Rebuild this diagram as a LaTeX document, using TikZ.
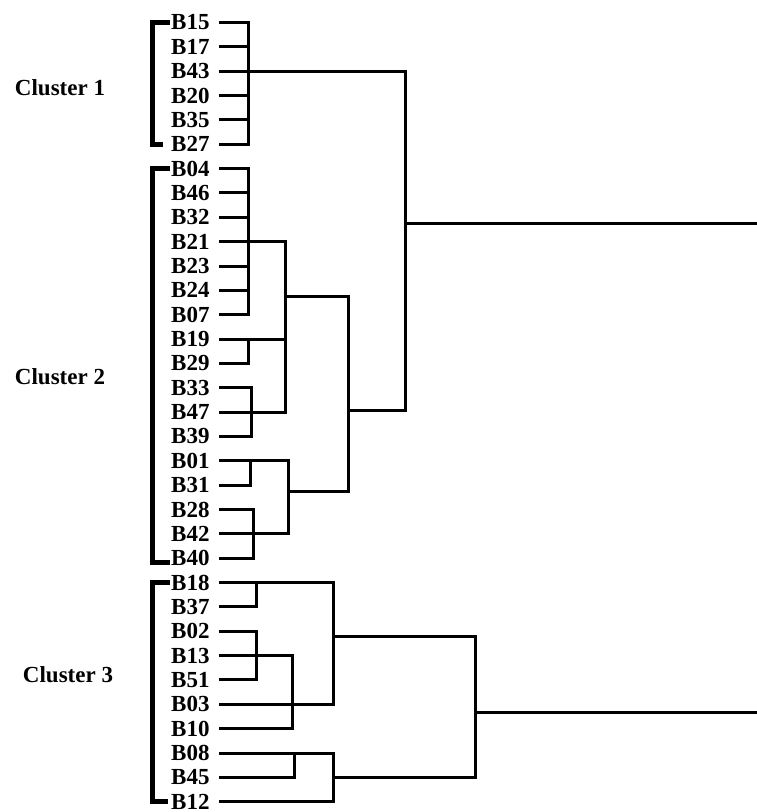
\documentclass[tikz,border=0pt]{standalone}
\usepackage{fontspec}
\setmainfont{Liberation Serif}
\usepackage{tikz}

\begin{document}
\begin{tikzpicture}[x=1pt,y=-1pt,
	lbl/.style={anchor=west,inner sep=0pt,font=\fontsize{23}{24}\selectfont\bfseries},
	clab/.style={inner sep=0pt,font=\fontsize{23}{24}\selectfont\bfseries},
	link/.style={line width=3pt,line cap=rect,line join=miter},
	brace/.style={line width=5pt,line join=miter}]
	\useasboundingbox (0,0) rectangle (757,812);
	\foreach \n [count=\i from 0] in {B15,B17,B43,B20,B35,B27,B04,B46,B32,B21,B23,B24,B07,B19,B29,B33,B47,B39,B01,B31,B28,B42,B40,B18,B37,B02,B13,B51,B03,B10,B08,B45,B12}
		\node[lbl] (\n) at (171,22.5+24.35*\i) {\n};
	\node[clab] (cl1) at (60,88) {Cluster 1};
	\node[clab] (cl2) at (60,377) {Cluster 2};
	\node[clab] (cl3) at (68,675) {Cluster 3};
	% leaves
	\foreach \n/\x in {B15/248,B17/248,B43/405,B20/248,B35/248,B27/248,
		B04/248,B46/248,B32/248,B21/285,B23/248,B24/248,B07/248,
		B19/285,B29/248,B33/251,B47/285,B39/251,
		B01/288,B31/250,B28/253,B42/288,B40/253,
		B18/333,B37/256,B02/256,B13/292,B51/256,B03/333,B10/292,
		B08/294,B45/294,B12/333}
		\draw[link] (\n.east) ++(11,0) -- (\x,0 |- \n.east);
	% merges
	\foreach \x/\a/\b in {248/B15/B27,248/B04/B07,248/B19/B29,251/B33/B39,285/B21/B47,
		250/B01/B31,253/B28/B40,288/B01/B42,256/B18/B37,256/B02/B51,292/B13/B10,
		333/B18/B03,294/B08/B45}
		\draw[link] (\x,0 |- \a.east) -- (\x,0 |- \b.east);
	\coordinate (j2) at (348,410);
	\coordinate (j12) at (405,223);
	\coordinate (j3) at (475,712);
	\draw[link] (285,296) -| (348,491) -- (288,491);
	\draw[link] (j2) -| (405,0 |- B43.east);
	\draw[link] (j12) -- (757,223);
	\draw[link] (294,753) -| (333,0 |- B12.east);
	\draw[link] (333,636) -| (475,777) -- (333,777);
	\draw[link] (j3) -- (757,712);
	% cluster brackets
	\draw[brace] (170,0 |- B15.east) -- (152,0 |- B15.east) -- (152,0 |- B27.east) -- (163,0 |- B27.east);
	\draw[brace] (170,0 |- B04.east) -- (152,0 |- B04.east) -- (152,562) -- (170,562);
	\draw[brace] (170,0 |- B18.east) -- (152,0 |- B18.east) -- (152,0 |- B12.east) -- (168,0 |- B12.east);
\end{tikzpicture}
\end{document}
